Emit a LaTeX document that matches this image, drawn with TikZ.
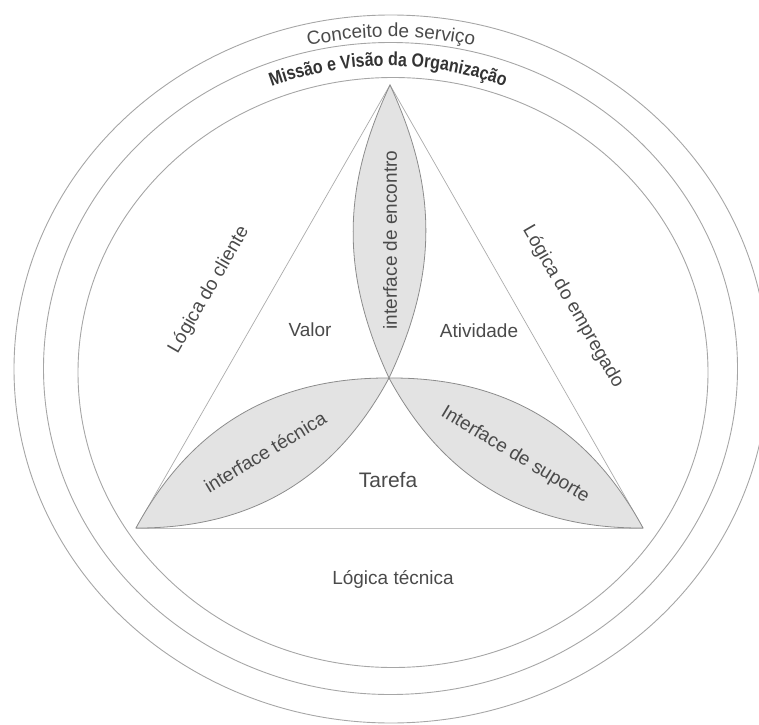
\documentclass[tikz,border=0pt]{standalone}
\usepackage{fontspec}
\setmainfont{Liberation Sans}
\newfontfamily\missaofont{Liberation Sans}[FakeStretch=0.84]
\usetikzlibrary{decorations.text}

\definecolor{ringgray}{HTML}{A6A6A6}
\definecolor{edgegray}{HTML}{ABABAB}
\definecolor{lensline}{HTML}{8C8C8C}
\definecolor{lensfill}{HTML}{E3E3E3}
\definecolor{txtgray}{HTML}{4A4A4A}
\definecolor{headgray}{HTML}{333333}

\tikzset{
  ring/.style={draw=ringgray, line width=0.9pt},
  edge/.style={draw=edgegray, line width=0.7pt},
  baseedge/.style={draw=edgegray!75, line width=0.7pt},
  lens/.style={draw=lensline, fill=lensfill, line width=0.8pt},
  lbl/.style={text=txtgray, font=\fontsize{19}{19}\selectfont, inner sep=0pt},
}

\begin{document}
\begin{tikzpicture}[x=1pt, y=1pt]
  \useasboundingbox (0,0) rectangle (759,724);
  \clip (0,0) rectangle (759,724);

  % the three rings
  \draw[ring] (391,355) ellipse [x radius=377, y radius=354];
  \draw[ring] (390.5,355.5) ellipse [x radius=347, y radius=326];
  \draw[ring] (393,351.5) ellipse [x radius=315, y radius=295];

  % ring titles set along arcs
  \path[decorate, decoration={text along path, text align=center,
        text color=txtgray,
        text={|\fontsize{19}{19}\selectfont|Conceito de serviço}}]
    (391,287) ++(105:400) arc[start angle=105, end angle=75, radius=400];
  \path[decorate, decoration={text along path, text align=center,
        text color=headgray,
        text={|\missaofont\bfseries\fontsize{19}{19}\selectfont|Missão e Visão da Organização}}]
    (388,318) ++(114:340) arc[start angle=114, end angle=66, radius=340];

  % triangle corners and centre
  \coordinate (A) at (390,639);
  \coordinate (B) at (136,196);
  \coordinate (C) at (643,196);
  \coordinate (O) at (389,346);

  \draw[edge] (B) -- (A) -- (C);
  \draw[baseedge] (B) -- (C);

  % the three interface lenses
  \draw[lens] (A) to[bend left=25] (O) to[bend left=25] (A) -- cycle;
  \draw[lens] (B) to[bend left=31] (O) to[bend left=31] (B) -- cycle;
  \draw[lens] (O) to[bend left=31] (C) to[bend left=31] (O) -- cycle;

  % labels
  \node[lbl, rotate=90] (encontro) at (390,484) {interface de encontro};
  \node[lbl, rotate=31] (tecnica) at (265,272) {interface técnica};
  \node[lbl, rotate=-31] (suporte) at (515,269) {Interface de suporte};

  \node[lbl] (valor) at (310,394) {Valor};
  \node[lbl] (atividade) at (479,393) {Atividade};
  \node[lbl, font=\fontsize{21}{21}\selectfont] (tarefa) at (388,244) {Tarefa};

  \node[lbl, rotate=60] (cliente) at (209,434) {Lógica do cliente};
  \node[lbl, rotate=-60] (empregado) at (573,417) {Lógica do empregado};
  \node[lbl] (logtec) at (393,145) {Lógica técnica};
\end{tikzpicture}
\end{document}
